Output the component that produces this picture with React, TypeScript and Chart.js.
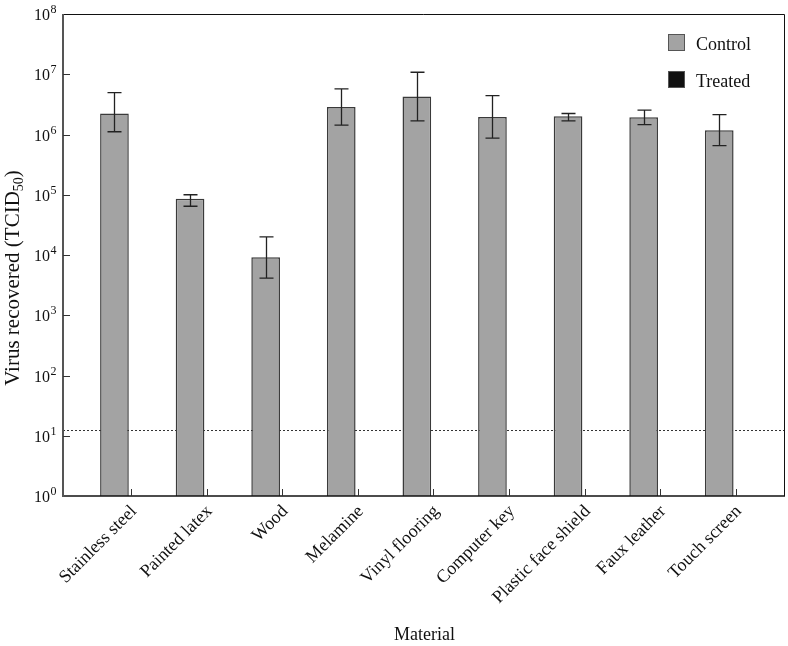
import React, { useEffect, useRef } from 'react';
import { Chart, registerables } from 'chart.js';
Chart.register(...registerables);

const materials = ['Stainless steel', 'Painted latex', 'Wood', 'Melamine', 'Vinyl flooring', 'Computer key', 'Plastic face shield', 'Faux leather', 'Touch screen'];
const controlMean = [2.23e6, 8.6e4, 9.15e3, 2.85e6, 4.27e6, 1.96e6, 2.01e6, 1.94e6, 1.18e6];
const controlUpper = [4.97e6, 1.0e5, 2.0e4, 5.73e6, 1.08e7, 4.43e6, 2.23e6, 2.54e6, 2.14e6];
const controlLower = [1.11e6, 6.44e4, 4.14e3, 1.43e6, 1.68e6, 8.7e5, 1.68e6, 1.46e6, 6.55e5];
const treatedMean: (number | null)[] = [null, null, null, null, null, null, null, null, null];
const detectionLimit = 12.6;
const yExponents = [0, 1, 2, 3, 4, 5, 6, 7, 8];
const legendLabels = ['Control', 'Treated'];
const xTitle = 'Material';
const yTitleMain = 'Virus recovered (TCID';
const yTitleSub = '50';
const yTitleEnd = ')';

const FONT = '"Liberation Serif", "Times New Roman", serif';
const CONTROL_FILL = '#a3a3a3';
const TREATED_FILL = '#111111';

const decor = {
  id: 'decor',
  beforeDatasetsDraw(chart: any) {
    const { ctx, chartArea: a, scales } = chart;
    const py = Math.round(scales.y.getPixelForValue(detectionLimit)) + 0.5;
    ctx.save();
    ctx.strokeStyle = '#333';
    ctx.lineWidth = 1;
    ctx.setLineDash([2, 2]);
    ctx.beginPath();
    ctx.moveTo(a.left, py);
    ctx.lineTo(a.right, py);
    ctx.stroke();
    ctx.restore();
  },
  afterDatasetsDraw(chart: any) {
    const { ctx, scales } = chart;
    const meta = chart.getDatasetMeta(0);
    ctx.save();
    ctx.strokeStyle = '#222';
    ctx.lineWidth = 1.3;
    meta.data.forEach((bar: any, i: number) => {
      const x = Math.round(bar.x) + 0.5;
      const yt = scales.y.getPixelForValue(controlUpper[i]);
      const yb = scales.y.getPixelForValue(controlLower[i]);
      ctx.beginPath();
      ctx.moveTo(x, yt); ctx.lineTo(x, yb);
      ctx.moveTo(x - 7, yt); ctx.lineTo(x + 7, yt);
      ctx.moveTo(x - 7, yb); ctx.lineTo(x + 7, yb);
      ctx.stroke();
    });
    ctx.restore();
  },
  afterDraw(chart: any) {
    const { ctx, chartArea: a, scales } = chart;
    ctx.save();
    // frame
    ctx.strokeStyle = '#111';
    ctx.lineWidth = 1;
    ctx.beginPath();
    ctx.moveTo(a.left, a.top + 0.5); ctx.lineTo(a.right + 0.5, a.top + 0.5); ctx.lineTo(a.right + 0.5, a.bottom);
    ctx.stroke();
    ctx.lineWidth = 1.5;
    ctx.beginPath();
    ctx.moveTo(a.left, a.bottom); ctx.lineTo(a.right + 1, a.bottom);
    ctx.stroke();
    ctx.strokeStyle = '#555';
    ctx.lineWidth = 2;
    ctx.beginPath();
    ctx.moveTo(a.left, a.top); ctx.lineTo(a.left, a.bottom + 1);
    ctx.stroke();
    // y ticks + labels
    ctx.strokeStyle = '#333';
    ctx.lineWidth = 1;
    ctx.fillStyle = '#111';
    yExponents.forEach((e) => {
      const py = Math.round(scales.y.getPixelForValue(Math.pow(10, e))) + 0.5;
      if (e > 0 && e < 8) {
        ctx.beginPath(); ctx.moveTo(a.left, py); ctx.lineTo(a.left + 7, py); ctx.stroke();
      }
      ctx.font = `16px ${FONT}`;
      ctx.textAlign = 'right';
      ctx.textBaseline = 'alphabetic';
      ctx.fillText('10', 50, py + 5.5);
      ctx.font = `12px ${FONT}`;
      ctx.textAlign = 'left';
      ctx.fillText(String(e), 50.5, py - 1.5);
    });
    // x ticks
    for (let i = 0; i < materials.length; i++) {
      const px = Math.round(scales.x.getPixelForValue(i)) + 0.5;
      ctx.beginPath(); ctx.moveTo(px, a.bottom); ctx.lineTo(px, a.bottom - 7); ctx.stroke();
    }
    // x title
    ctx.font = `18px ${FONT}`;
    ctx.textAlign = 'center';
    ctx.textBaseline = 'alphabetic';
    ctx.fillText(xTitle, (a.left + a.right) / 2 + 1, 640);
    // y title
    const big = 21, small = 14;
    ctx.font = `${big}px ${FONT}`;
    const w1 = ctx.measureText(yTitleMain).width;
    ctx.font = `${small}px ${FONT}`;
    const w2 = ctx.measureText(yTitleSub).width;
    ctx.font = `${big}px ${FONT}`;
    const w3 = ctx.measureText(yTitleEnd).width;
    const total = w1 + w2 + w3;
    ctx.translate(19, 278);
    ctx.rotate(-Math.PI / 2);
    ctx.textAlign = 'left';
    let x0 = -total / 2;
    ctx.fillText(yTitleMain, x0, 0);
    x0 += w1;
    ctx.font = `${small}px ${FONT}`;
    ctx.fillText(yTitleSub, x0, 4);
    x0 += w2;
    ctx.font = `${big}px ${FONT}`;
    ctx.fillText(yTitleEnd, x0, 0);
    ctx.setTransform(1, 0, 0, 1, 0, 0);
    // legend
    const fills = [CONTROL_FILL, TREATED_FILL];
    const boxTop = [34.5, 71.5];
    legendLabels.forEach((lab, i) => {
      ctx.fillStyle = fills[i];
      ctx.fillRect(668, boxTop[i], 16, 16);
      ctx.strokeStyle = '#555';
      ctx.lineWidth = 1;
      ctx.strokeRect(668.5, boxTop[i], 16, 16);
      ctx.fillStyle = '#111';
      ctx.font = `18px ${FONT}`;
      ctx.textAlign = 'left';
      ctx.textBaseline = 'alphabetic';
      ctx.fillText(lab, 696, boxTop[i] + 15);
    });
    ctx.restore();
  },
};

export default function App() {
  const ref = useRef<HTMLCanvasElement>(null);
  useEffect(() => {
    if (!ref.current) return;
    const chart = new Chart(ref.current, {
      type: 'bar',
      data: {
        datasets: [
          {
            label: legendLabels[0],
            data: controlMean.map((v, i) => ({ x: i, y: v })),
            backgroundColor: CONTROL_FILL,
            borderColor: '#3a3a3a',
            borderWidth: 1.5,
            categoryPercentage: 0.878,
            barPercentage: 0.864,
          },
          {
            label: legendLabels[1],
            data: treatedMean.map((v, i) => ({ x: i, y: v })),
            backgroundColor: TREATED_FILL,
            borderColor: '#111',
            borderWidth: 1.5,
            categoryPercentage: 0.878,
            barPercentage: 0.864,
          },
        ] as any,
      },
      options: {
        responsive: false,
        animation: false,
        events: [],
        layout: { padding: { top: 14, right: 4, left: 0, bottom: 0 } },
        plugins: { legend: { display: false }, tooltip: { enabled: false } },
        scales: {
          x: {
            type: 'linear',
            min: -0.9,
            max: 8.637,
            offset: false,
            grid: { display: false, drawTicks: false },
            border: { display: false },
            ticks: {
              stepSize: 1,
              includeBounds: false,
              autoSkip: false,
              maxRotation: 45,
              minRotation: 45,
              padding: 5,
              labelOffset: 3,
              color: '#111',
              font: { family: FONT, size: 18 },
              callback: (v: any) => materials[v] ?? '',
            },
            afterFit: (s: any) => { s.height = 150; s.paddingLeft = 0; s.paddingRight = 0; },
          } as any,
          y: {
            type: 'logarithmic',
            min: 1,
            max: 1e8,
            grid: { display: false, drawTicks: false },
            border: { display: false },
            ticks: { display: false },
            afterFit: (s: any) => { s.width = 63; s.paddingTop = 0; s.paddingBottom = 0; },
          } as any,
        },
      },
      plugins: [decor],
    });
    return () => chart.destroy();
  }, []);
  return (
    <div style={{ position: 'fixed', left: 0, top: 0, width: 788, height: 646, background: '#fff' }}>
      <canvas ref={ref} width={788} height={646} />
    </div>
  );
}
